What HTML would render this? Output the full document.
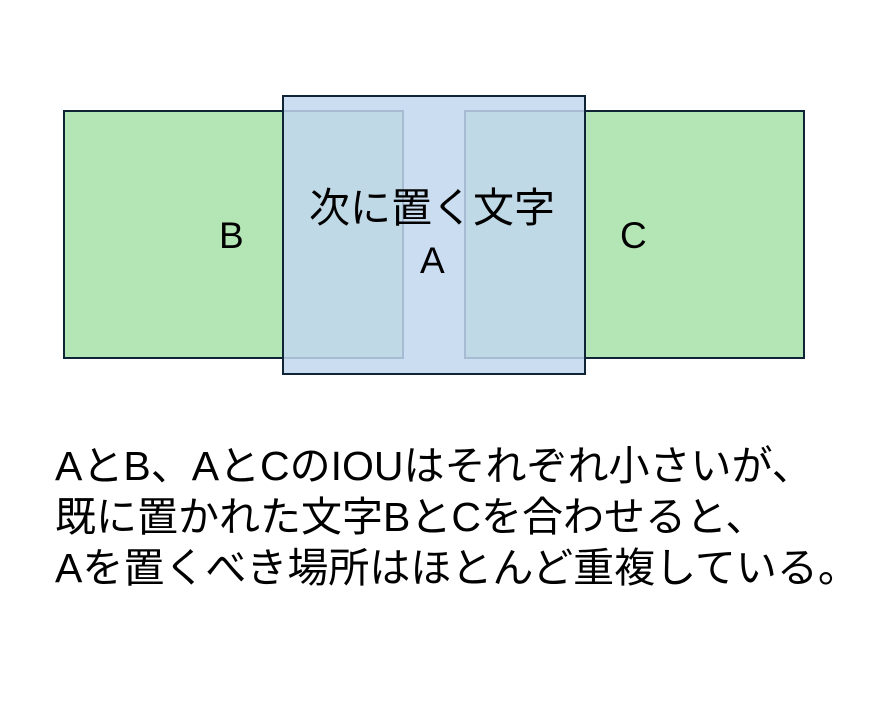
<!DOCTYPE html>
<html><head><meta charset="utf-8"><style>
body{margin:0;width:876px;height:704px;background:#fff;position:relative;overflow:hidden;font-family:"Liberation Sans","Noto Sans CJK JP",sans-serif;color:#000}
.r{position:absolute;box-sizing:border-box}
.t{position:absolute;white-space:nowrap;line-height:1}
</style></head><body>
<div class="r" style="left:63px;top:110px;width:341px;height:249px;background:#b4e5b4;border:2.5px solid #0f2535"></div>
<div class="r" style="left:464px;top:110px;width:341px;height:249px;background:#b4e5b4;border:2.5px solid #0f2535"></div>
<div class="r" style="left:282px;top:95px;width:304px;height:280px;background:rgba(194,215,238,0.85);border:2.5px solid #0f2535"></div>
<div class="t" style="left:219px;top:217px;font-size:37px">B</div>
<div class="t" style="left:620px;top:217px;font-size:37px">C</div>
<div class="t" style="left:309px;top:188px;font-size:41px">次に置く文字</div>
<div class="t" style="left:420px;top:242px;font-size:37px">A</div>
<div class="t" style="left:55px;top:446px;font-size:41px">AとB、AとCのIOUはそれぞれ小さいが、</div>
<div class="t" style="left:55px;top:497px;font-size:41px">既に置かれた文字BとCを合わせると、</div>
<div class="t" style="left:55px;top:548px;font-size:41px">Aを置くべき場所はほとんど重複している。</div>
</body></html>
